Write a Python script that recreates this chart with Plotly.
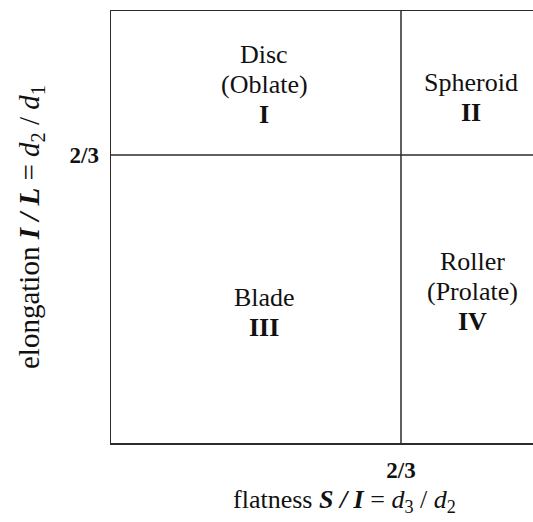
import plotly.graph_objects as go

# ---- data ----
threshold = 2 / 3
threshold_label = "2/3"
region_lines = [
    ["Disc", "(Oblate)", "<b>I</b>"],
    ["Spheroid", "<b>II</b>"],
    ["Blade", "<b>III</b>"],
    ["Roller", "(Prolate)", "<b>IV</b>"],
]
region_x = [0.352, 0.828, 0.352, 0.832]
region_y = [0.829, 0.799, 0.303, 0.350]
x_title = "flatness <b><i>S / I</i></b> = <i>d</i><sub>3</sub> / <i>d</i><sub>2</sub>"
y_title = "elongation <b><i>I / L</i></b> = <i>d</i><sub>2</sub> / <i>d</i><sub>1</sub>"
x_range = [0, 0.9701]
y_range = [0, 1]

FONT = "Liberation Serif, Times New Roman, serif"
LINE_COLOR = "#2b2b2b"
LINE_GAP = 30  # px between text lines

fig = go.Figure()
fig.add_trace(go.Scatter(x=[None], y=[None], mode="markers", showlegend=False,
                         hoverinfo="skip"))

annotations = []
for lines, cx, cy in zip(region_lines, region_x, region_y):
    n = len(lines)
    for i, t in enumerate(lines):
        offset = ((n - 1) / 2 - i) * LINE_GAP
        annotations.append(dict(
            x=cx, y=cy, xref="x", yref="y", text=t, showarrow=False,
            xanchor="center", yanchor="middle", yshift=offset,
            font=dict(family=FONT, size=26, color="#111"),
        ))

annotations.append(dict(
    x=(344 - 111) / 422, y=(443 - 501) / 432, xref="paper", yref="paper",
    text=x_title, showarrow=False, xanchor="center", yanchor="middle",
    font=dict(family=FONT, size=26, color="#111"),
))
annotations.append(dict(
    x=(31 - 111) / 422, y=(443 - 227) / 432, xref="paper", yref="paper",
    text=y_title, showarrow=False, xanchor="center", yanchor="middle",
    textangle=-90, font=dict(family=FONT, size=29, color="#111"),
))

shapes = [
    dict(type="line", xref="x", yref="paper", x0=threshold, x1=threshold,
         y0=0, y1=1, line=dict(color=LINE_COLOR, width=1.5)),
    dict(type="line", xref="paper", yref="y", x0=0, x1=1,
         y0=threshold, y1=threshold, line=dict(color=LINE_COLOR, width=1.5)),
]

fig.update_layout(
    width=533, height=522,
    margin=dict(l=111, r=0, t=11, b=79),
    paper_bgcolor="white", plot_bgcolor="white",
    showlegend=False,
    annotations=annotations,
    shapes=shapes,
    xaxis=dict(range=x_range, showgrid=False, zeroline=False,
               showline=True, mirror=True, linecolor=LINE_COLOR, linewidth=1.5,
               tickvals=[threshold], ticktext=["<b>" + threshold_label + "</b>"],
               ticks="", ticklabelstandoff=6,
               tickfont=dict(family=FONT, size=23, color="#111"),
               fixedrange=True),
    yaxis=dict(range=y_range, showgrid=False, zeroline=False,
               showline=True, mirror=False, linecolor=LINE_COLOR, linewidth=1.5,
               tickvals=[threshold], ticktext=["<b>" + threshold_label + "</b>"],
               ticks="", ticklabelstandoff=6,
               tickfont=dict(family=FONT, size=23, color="#111"),
               fixedrange=True),
)

# remove the default page margin / scrollbars so the figure fills the window
page_fix = (
    "document.documentElement.style.margin='0';"
    "document.documentElement.style.overflow='hidden';"
    "document.body.style.margin='0';"
    "document.body.style.overflow='hidden';"
)

fig.write_html("out.html", post_script=page_fix,
               config={"displayModeBar": False, "staticPlot": True})
